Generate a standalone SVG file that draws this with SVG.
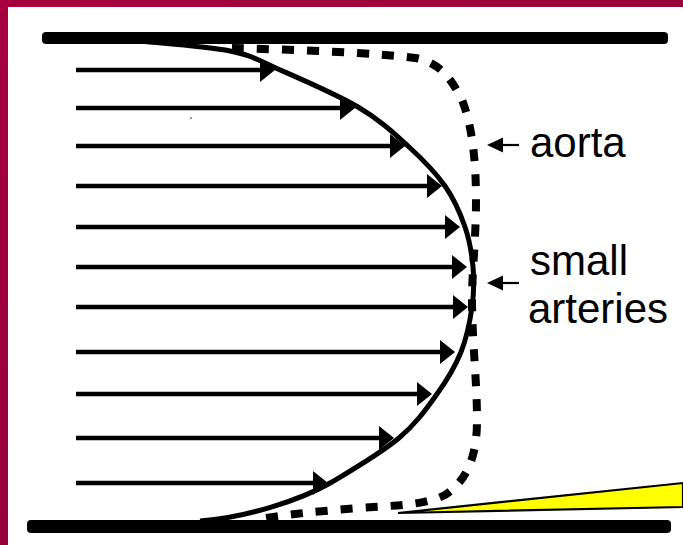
<svg xmlns="http://www.w3.org/2000/svg" width="683" height="545" viewBox="0 0 683 545">
  <defs>
    <linearGradient id="bg" x1="0" y1="0" x2="1" y2="1">
      <stop offset="0" stop-color="#A8003F"/>
      <stop offset="0.5" stop-color="#98003A"/>
      <stop offset="1" stop-color="#A3003D"/>
    </linearGradient>
    <marker id="head" markerUnits="userSpaceOnUse" markerWidth="16" markerHeight="26" viewBox="0 0 16 26" refX="2" refY="12" orient="auto">
      <path d="M0,0 L15,12 L0,24 Z" fill="#000"/>
    </marker>
    <style>
      .wall { fill: #000; }
      .vec { stroke: #000; stroke-width: 4.5; fill: none; marker-end: url(#head); }
      .ptr { stroke: #000; stroke-width: 2.2; fill: none; }
      .ptrhead { fill: #000; }
      .lbl { font-family: "Liberation Sans", Arial, sans-serif; font-size: 42px; fill: #000; }
    </style>
  </defs>

  <g id="background">
    <rect x="0" y="0" width="683" height="545" fill="url(#bg)"/>
    <rect x="8" y="7" width="675" height="538" fill="#fff"/>
  </g>

  <g id="walls">
    <rect class="wall" x="42" y="32" width="626" height="12" rx="4"/>
    <rect class="wall" x="27" y="520" width="644" height="13" rx="4"/>
  </g>

  <g id="wedge">
    <polygon points="398,513 683,483 683,507" fill="#FFFF00" stroke="#000" stroke-width="2.2" stroke-linejoin="miter"/>
  </g>

  <g id="aorta-profile">
    <path d="M232 48 C300 50, 380 53, 415 58 C440 62, 452 80, 462 100 C472 125, 476 160, 476 200 C476 240, 472 270, 472 300 C472 340, 477 380, 477 420 C477 455, 468 480, 445 495 C425 505, 400 505, 360 508 C320 511, 280 515, 255 520" fill="none" stroke="#000" stroke-width="8" stroke-dasharray="12 13"/>
  </g>

  <g id="parabolic-profile">
    <path d="M140 41 C155 42.7, 207 46.3, 230 51 C253 55.7, 256.7 59.7, 278 69 C299.3 78.3, 336.3 94.2, 358 107 C379.7 119.8, 393.5 132.8, 408 146 C422.5 159.2, 435.5 172.5, 445 186 C454.5 199.5, 460.3 213.5, 465 227 C469.7 240.5, 471.8 253.7, 473 267 C474.2 280.3, 474 292.8, 472 307 C470 321.2, 466.8 337.5, 461 352 C455.2 366.5, 447.3 379.7, 437 394 C426.7 408.3, 416.5 423.3, 399 438 C381.5 452.7, 351.3 470.5, 332 482 C301 500, 245 518, 200 521" fill="none" stroke="#000" stroke-width="5"/>
  </g>

  <g id="connectors">
    <line class="vec" x1="76" y1="70" x2="262" y2="70"/>
    <line class="vec" x1="76" y1="108" x2="342" y2="108"/>
    <line class="vec" x1="76" y1="146" x2="392" y2="146"/>
    <line class="vec" x1="76" y1="186" x2="429" y2="186"/>
    <line class="vec" x1="76" y1="227" x2="447" y2="227"/>
    <line class="vec" x1="76" y1="267" x2="454" y2="267"/>
    <line class="vec" x1="76" y1="307" x2="455" y2="307"/>
    <line class="vec" x1="76" y1="352" x2="442" y2="352"/>
    <line class="vec" x1="76" y1="394" x2="419" y2="394"/>
    <line class="vec" x1="76" y1="438" x2="381" y2="438"/>
    <line class="vec" x1="76" y1="483" x2="315" y2="483"/>
    <g id="pointer-aorta">
      <line class="ptr" x1="519" y1="145" x2="500" y2="145"/>
      <polygon class="ptrhead" points="487,145 503,137.5 503,152.5"/>
    </g>
    <g id="pointer-small-arteries">
      <line class="ptr" x1="519" y1="283" x2="500" y2="283"/>
      <polygon class="ptrhead" points="487,283 503,275.5 503,290.5"/>
    </g>
  </g>

  <g id="label-aorta">
    <text class="lbl" x="530" y="157">aorta</text>
  </g>
  <g id="label-small-arteries">
    <text class="lbl" x="530" y="275">small</text>
    <text class="lbl" x="528" y="323">arteries</text>
  </g>

  <circle cx="191" cy="118" r="0.9" fill="#666"/>
</svg>
